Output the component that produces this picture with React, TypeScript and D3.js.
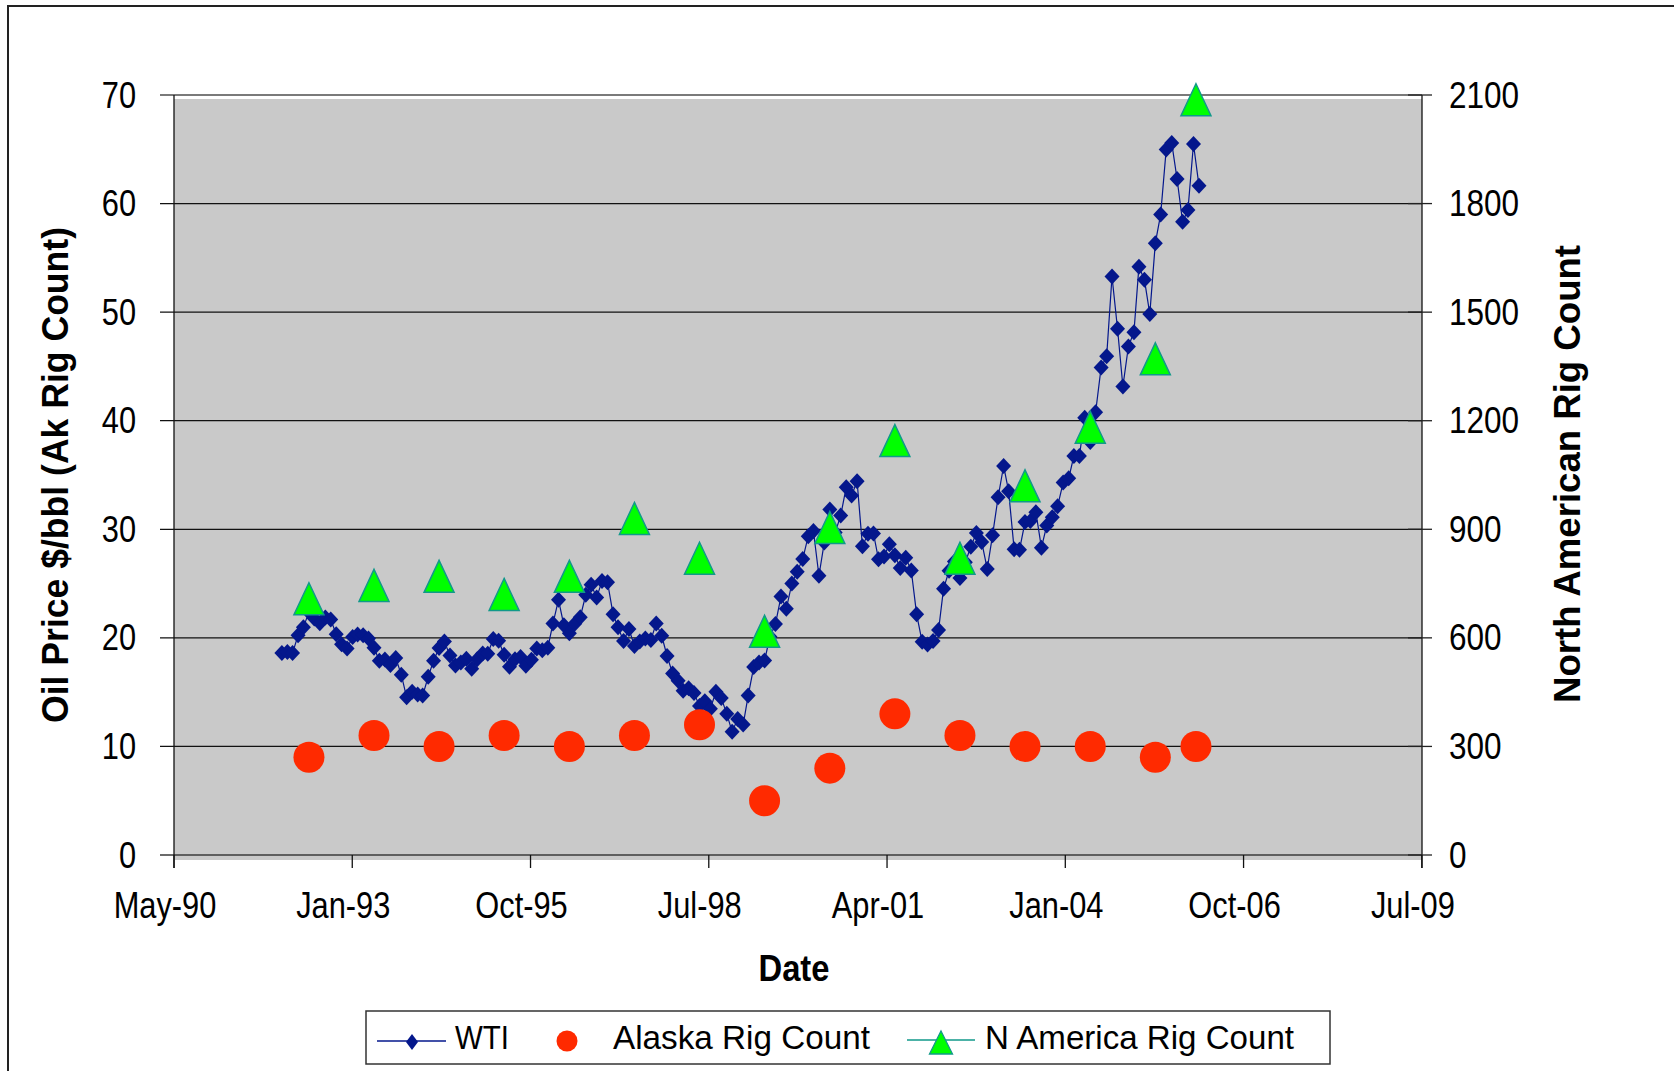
import React from "react";
import * as d3 from "d3";

// WTI spot price, $/bbl, monthly from January 1992 through February 2006
const wtiFirstMonth = { year: 1992, month: 0 };
const wtiPrices = [
  18.6, 18.7, 18.6, 20.23, 20.98, 22.37, 21.78, 21.34, 21.88, 21.69, 20.34, 19.41, // 1992
  19.03, 20.09, 20.32, 20.25, 19.95, 19.09, 17.89, 18.01, 17.5, 18.15, 16.61, 14.52, // 1993
  15.03, 14.78, 14.68, 16.42, 17.89, 19.06, 19.66, 18.38, 17.45, 17.72, 18.07, 17.16, // 1994
  18.04, 18.57, 18.54, 19.9, 19.74, 18.45, 17.33, 18.02, 18.23, 17.43, 17.99, 19.03, // 1995
  18.85, 19.09, 21.33, 23.5, 21.17, 20.42, 21.3, 21.9, 23.97, 24.88, 23.71, 25.23, // 1996
  25.13, 22.18, 20.97, 19.7, 20.82, 19.26, 19.66, 19.95, 19.8, 21.33, 20.19, 18.33, // 1997
  16.72, 16.06, 15.12, 15.35, 14.91, 13.72, 14.17, 13.47, 15.03, 14.46, 13.0, 11.35, // 1998
  12.52, 12.01, 14.68, 17.31, 17.72, 17.92, 20.1, 21.28, 23.8, 22.69, 25.0, 26.1, // 1999
  27.26, 29.37, 29.84, 25.72, 28.79, 31.82, 29.7, 31.26, 33.88, 33.11, 34.42, 28.44, // 2000
  29.59, 29.61, 27.25, 27.49, 28.63, 27.6, 26.43, 27.37, 26.2, 22.17, 19.64, 19.39, // 2001
  19.72, 20.72, 24.53, 26.18, 27.04, 25.52, 26.97, 28.39, 29.66, 28.84, 26.35, 29.46, // 2002
  32.95, 35.83, 33.51, 28.17, 28.11, 30.66, 30.76, 31.57, 28.31, 30.34, 31.11, 32.13, // 2003
  34.31, 34.69, 36.74, 36.75, 40.28, 38.03, 40.78, 44.9, 45.94, 53.28, 48.47, 43.15, // 2004
  46.84, 48.15, 54.19, 52.98, 49.83, 56.35, 59.0, 64.99, 65.59, 62.26, 58.32, 59.41, // 2005
  65.49, 61.63, // 2006
];

// Annual rig counts
const rigDates = [
  "1992-06-01", "1993-06-01", "1994-06-01", "1995-06-01", "1996-06-01",
  "1997-06-01", "1998-06-01", "1999-06-01", "2000-06-01", "2001-06-01",
  "2002-06-01", "2003-06-01", "2004-06-01", "2005-06-01", "2006-01-15",
];
const alaskaRigs = [9, 11, 10, 11, 10, 11, 12, 5, 8, 13, 11, 10, 10, 9, 10];
const naRigs = [708, 745, 770, 720, 770, 930, 820, 618, 905, 1145, 820, 1020, 1182, 1371, 2087];

// Axis settings
const leftTicks = [0, 10, 20, 30, 40, 50, 60, 70];
const rightTicks = [0, 300, 600, 900, 1200, 1500, 1800, 2100];
const xAxisStart = Date.UTC(1990, 4, 6);
const xAxisEnd = Date.UTC(2009, 6, 6);
const xTickStepDays = 1000;

const FONT = "'Liberation Sans', Arial, Helvetica, sans-serif";
const NAVY = "#04178C";
const RED = "#FF2A00";
const GREEN = "#00FF00";
const TEAL = "#11998A";

const W = 1674;
const H = 1071;
const P = { left: 174, right: 1422, top: 95, bottom: 855 };

const diamondPath = (rx: number, ry: number) => `M0,${-ry}L${rx},0L0,${ry}L${-rx},0Z`;
const trianglePath = (w: number, h: number) =>
  `M0,${-h / 2}L${w / 2},${h / 2}L${-w / 2},${h / 2}Z`;

export default function App() {
  const x = d3.scaleUtc().domain([new Date(xAxisStart), new Date(xAxisEnd)]).range([P.left, P.right]);
  const yL = d3.scaleLinear().domain([0, 70]).range([P.bottom, P.top]);
  const yR = d3.scaleLinear().domain([0, 2100]).range([P.bottom, P.top]);

  const wti = wtiPrices.map((v, i) => ({
    date: new Date(Date.UTC(wtiFirstMonth.year, wtiFirstMonth.month + i, 1)),
    v,
  }));
  const rigs = rigDates.map((d, i) => ({
    date: new Date(d + "T00:00:00Z"),
    ak: alaskaRigs[i],
    na: naRigs[i],
  }));

  const xTicks = d3.range(8).map((i) => d3.utcDay.offset(new Date(xAxisStart), i * xTickStepDays));
  const fmt = d3.utcFormat("%b-%y");

  const line = d3
    .line<{ date: Date; v: number }>()
    .x((d) => x(d.date))
    .y((d) => yL(d.v));

  const tickFont = 35;

  return (
    <svg
      width={W}
      height={H}
      style={{ position: "absolute", left: 0, top: 0, background: "#fff" }}
      fontFamily={FONT}
    >
      <rect x={0} y={0} width={W} height={H} fill="#fff" />
      {/* chart frame */}
      <path d={`M8,${H}V6H${W}`} fill="none" stroke="#222" strokeWidth={2} />

      {/* plot area */}
      <rect x={P.left} y={P.top + 4} width={P.right - P.left} height={P.bottom - P.top + 1} fill="#C9C9C9" />

      {/* gridlines */}
      {leftTicks.map((t) => (
        <line
          key={"g" + t}
          x1={P.left - 14}
          x2={P.right}
          y1={yL(t)}
          y2={yL(t)}
          stroke={t === 70 ? "#7a7a7a" : t === 0 ? "#3a3a3a" : "#111"}
          strokeWidth={t === 70 ? 2 : 1.3}
        />
      ))}

      {/* axes */}
      <line x1={P.left} x2={P.left} y1={P.top} y2={P.bottom + 13} stroke="#111" strokeWidth={1.3} />
      <line x1={P.right} x2={P.right} y1={P.top} y2={P.bottom + 13} stroke="#111" strokeWidth={1.3} />
      {rightTicks.map((t) => (
        <line key={"rt" + t} x1={P.right - 14} x2={P.right + 10} y1={yR(t)} y2={yR(t)} stroke="#222" strokeWidth={1.3} />
      ))}
      {xTicks.map((t, i) => (
        <line key={"xt" + i} x1={x(t)} x2={x(t)} y1={P.bottom} y2={P.bottom + 13} stroke="#111" strokeWidth={1.3} />
      ))}

      {/* left tick labels */}
      {leftTicks.map((t) => (
        <text
          key={"lt" + t}
          transform={`translate(136,${yL(t) + 12.5}) scale(0.88,1.03)`}
          textAnchor="end"
          fontSize={tickFont}
          fill="#000"
        >
          {t}
        </text>
      ))}
      {/* right tick labels */}
      {rightTicks.map((t) => (
        <text
          key={"rl" + t}
          transform={`translate(1449,${yR(t) + 12.5}) scale(0.9,1.03)`}
          textAnchor="start"
          fontSize={tickFont}
          fill="#000"
        >
          {t}
        </text>
      ))}
      {/* date tick labels */}
      {xTicks.map((t, i) => (
        <text
          key={"xl" + i}
          transform={`translate(${x(t) - 9},918) scale(0.88,1.03)`}
          textAnchor="middle"
          fontSize={tickFont}
          fill="#000"
        >
          {fmt(t)}
        </text>
      ))}

      {/* axis titles */}
      <text
        transform="translate(68,475) rotate(-90)"
        textAnchor="middle"
        fontSize={36}
        fontWeight="bold"
        textLength={496}
        lengthAdjust="spacingAndGlyphs"
      >
        Oil Price $/bbl (Ak Rig Count)
      </text>
      <text
        transform="translate(1580,474) rotate(-90)"
        textAnchor="middle"
        fontSize={36}
        fontWeight="bold"
        textLength={458}
        lengthAdjust="spacingAndGlyphs"
      >
        North American Rig Count
      </text>
      <text x={794} y={981} textAnchor="middle" fontSize={36} fontWeight="bold" textLength={71} lengthAdjust="spacingAndGlyphs">
        Date
      </text>

      {/* WTI series */}
      <path d={line(wti) || ""} fill="none" stroke={NAVY} strokeWidth={1.2} />
      {wti.map((d, i) => (
        <path key={"w" + i} d={diamondPath(7.5, 8)} transform={`translate(${x(d.date)},${yL(d.v)})`} fill={NAVY} />
      ))}

      {/* Alaska rig count */}
      {rigs.map((d, i) => (
        <circle key={"a" + i} cx={x(d.date)} cy={yL(d.ak)} r={15.5} fill={RED} />
      ))}

      {/* North American rig count */}
      {rigs.map((d, i) => (
        <path
          key={"n" + i}
          d={trianglePath(30, 32)}
          transform={`translate(${x(d.date)},${yR(d.na)})`}
          fill={GREEN}
          stroke={TEAL}
          strokeWidth={1.5}
        />
      ))}

      {/* legend */}
      <rect x={366} y={1011} width={964} height={53} fill="#fff" stroke="#333" strokeWidth={1.5} />
      <line x1={377} x2={446} y1={1041} y2={1041} stroke={NAVY} strokeWidth={1.5} />
      <path d={diamondPath(6, 8)} transform="translate(412,1042)" fill={NAVY} />
      <text x={455} y={1049} fontSize={33} textLength={54} lengthAdjust="spacingAndGlyphs">
        WTI
      </text>
      <circle cx={567} cy={1041} r={10.5} fill={RED} />
      <text x={613} y={1049} fontSize={33} textLength={257} lengthAdjust="spacingAndGlyphs">
        Alaska Rig Count
      </text>
      <line x1={907} x2={975} y1={1040} y2={1040} stroke={TEAL} strokeWidth={1.5} />
      <path d={trianglePath(23, 23)} transform="translate(941,1042.5)" fill={GREEN} stroke={TEAL} strokeWidth={1.3} />
      <text x={985} y={1049} fontSize={33} textLength={309} lengthAdjust="spacingAndGlyphs">
        N America Rig Count
      </text>
    </svg>
  );
}
